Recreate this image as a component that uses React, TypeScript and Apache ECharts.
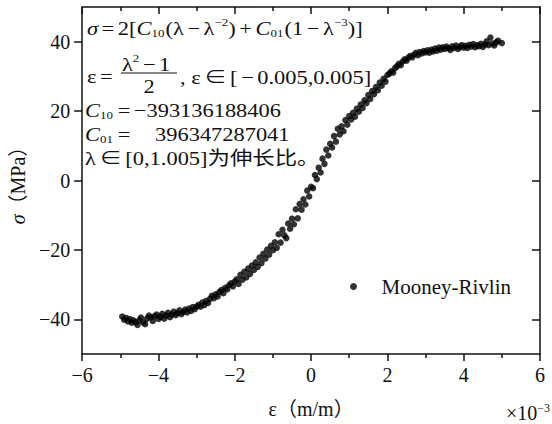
import React, { useEffect, useRef } from "react";
import * as echarts from "echarts";

// strain in units of 10^-3 (m/m), stress in MPa
const strain = [
  -4.95, -4.9, -4.85, -4.8, -4.75, -4.7, -4.66, -4.6, -4.55, -4.5, -4.46, -4.4, -4.35, -4.3, -4.25, -4.2, -4.15, -4.1, -4.05, -4.0,
  -3.95, -3.9, -3.85, -3.8, -3.75, -3.7, -3.65, -3.6, -3.55, -3.5, -3.45, -3.4, -3.35, -3.3, -3.25, -3.2, -3.15, -3.1, -3.05, -3.0,
  -2.95, -2.9, -2.85, -2.8, -2.75, -2.7, -2.65, -2.6, -2.55, -2.5, -2.45, -2.4, -2.35, -2.3, -2.25, -2.2, -2.15, -2.1, -2.05, -2.0,
  -1.95, -1.9, -1.85, -1.8, -1.75, -1.7, -1.65, -1.6, -1.55, -1.5, -1.45, -1.4, -1.35, -1.3, -1.25, -1.2, -1.15, -1.1, -1.05, -1.0,
  -0.95, -0.9, -0.85, -0.8, -0.75, -0.7, -0.65, -0.6, -0.55, -0.5, -0.45, -0.4, -0.35, -0.3, -0.25, -0.2, -0.15, -0.1, -0.05, 0.0,
  0.05, 0.1, 0.15, 0.2, 0.25, 0.3, 0.35, 0.4, 0.45, 0.5, 0.55, 0.6, 0.65, 0.7, 0.75, 0.8, 0.85, 0.9, 0.95, 1.0,
  1.05, 1.1, 1.15, 1.2, 1.25, 1.3, 1.35, 1.4, 1.45, 1.5, 1.55, 1.6, 1.65, 1.7, 1.75, 1.8, 1.85, 1.9, 1.95, 2.0,
  2.05, 2.1, 2.15, 2.2, 2.25, 2.3, 2.35, 2.4, 2.45, 2.5, 2.55, 2.6, 2.65, 2.7, 2.75, 2.8, 2.85, 2.9, 2.95, 3.0,
  3.05, 3.1, 3.15, 3.2, 3.25, 3.3, 3.35, 3.4, 3.45, 3.5, 3.55, 3.6, 3.65, 3.7, 3.75, 3.8, 3.85, 3.9, 3.95, 4.0,
  4.05, 4.1, 4.15, 4.2, 4.25, 4.3, 4.35, 4.4, 4.45, 4.5, 4.55, 4.6, 4.65, 4.7, 4.75, 4.8, 4.85, 4.9, 5.0,
];
const stress = [
  -39.2, -40.1, -39.6, -40.6, -39.9, -41.0, -40.3, -40.8, -41.6, -40.2, -39.5, -40.9, -41.4, -39.8, -38.9, -39.4, -40.5, -39.1, -38.6, -39.9,
  -39.3, -38.4, -39.8, -38.9, -38.1, -39.4, -38.6, -37.8, -38.8, -38.2, -37.4, -38.5, -37.9, -37.2, -38.0, -36.9, -37.6, -36.5, -37.1, -36.3,
  -35.8, -36.4, -35.2, -35.9, -34.7, -35.3, -34.1, -33.2, -33.9, -32.8, -33.4, -32.1, -31.6, -32.5, -30.9, -31.4, -30.2, -29.6, -30.5, -29.1,
  -28.5, -29.8, -27.2, -28.6, -26.3, -27.9, -25.4, -26.9, -24.5, -25.8, -23.6, -24.9, -22.2, -23.8, -21.1, -22.5, -19.9, -21.4, -18.8, -20.1,
  -17.8, -19.4, -15.5, -17.9, -14.2, -15.8, -16.6, -12.4, -13.9, -11.0, -12.6, -8.3, -10.9, -6.8, -8.4, -5.4, -6.9, -2.9, -4.6, -1.8,
  -2.2, 1.6, 0.4, 3.7, 2.3, 6.3, 4.8, 8.9, 7.2, 10.6, 9.5, 12.8, 11.2, 14.9, 13.3, 15.6, 14.2, 17.4, 16.1, 18.6,
  17.6, 19.5, 18.4, 20.7, 19.8, 21.9, 20.9, 23.1, 22.3, 24.6, 23.5, 25.8, 24.9, 26.9, 26.0, 28.2, 27.3, 29.3, 28.5, 30.4,
  30.8, 31.5, 31.1, 32.4, 32.9, 33.6, 33.2, 34.3, 34.9, 34.5, 35.4, 35.9, 35.5, 36.3, 36.8, 36.1, 37.0, 36.6, 37.3, 36.9,
  37.5, 36.8, 37.7, 37.2, 38.0, 37.4, 38.3, 37.7, 38.4, 37.9, 38.6, 38.1, 37.6, 38.7, 38.2, 38.9, 37.9, 38.5, 39.0, 38.3,
  38.8, 38.2, 39.1, 38.6, 39.3, 38.4, 39.0, 38.7, 39.4, 38.5, 39.2, 40.1, 39.0, 41.2, 39.5, 38.9, 39.8, 40.3, 39.6,
];
const yTicks = [-40, -20, 0, 20, 40];
const seriesName = "Mooney-Rivlin";
const c10Text = "−393136188406";
const c01Text = "396347287041";

const serif = "'Liberation Serif', 'Times New Roman', 'Noto Sans CJK SC', serif";
const ink = "#111";
const fmtMinus = (v: number) => String(v).replace("-", "\u2212");

export default function App() {
  const ref = useRef<HTMLDivElement>(null);
  useEffect(() => {
    document.body.style.margin = "0";
    if (!ref.current) return;
    const chart = echarts.init(ref.current, undefined, { renderer: "svg" });
    const fs = 19;
    const rich: any = {
      i: { fontStyle: "italic", fontSize: fs, fontFamily: serif, fill: ink, color: ink, lineHeight: 22 },
      sub: { fontSize: 11, fontFamily: serif, verticalAlign: "bottom", fill: ink, color: ink, lineHeight: 22, padding: [0, 1, 0, 0] },
      sup: { fontSize: 11, fontFamily: serif, verticalAlign: "top", fill: ink, color: ink, lineHeight: 22 },
      op: { fontSize: fs, fontFamily: serif, padding: [0, 3, 0, 3], fill: ink, color: ink, lineHeight: 22 },
      pad: { fontSize: fs, fontFamily: serif, width: 18, lineHeight: 22 },
    };
    const sx = 1.18;
    const txt = (text: string, x: number, y: number, extra: any = {}) => ({
      type: "text",
      x,
      y,
      scaleX: sx,
      style: {
        text,
        fontSize: fs,
        fontFamily: serif,
        fill: ink,
        verticalAlign: "middle",
        lineHeight: 22,
        rich,
        ...extra,
      },
    });
    const points = strain.map((s, k) => [s, stress[k]]);
    const axisLine = { show: true, onZero: false, lineStyle: { color: ink, width: 1.5 } };
    const tickLine = { color: ink, width: 1.5 };
    chart.setOption({
      animation: false,
      grid: { left: 81, right: 12, top: 7, bottom: 63 },
      legend: {
        data: [{ name: seriesName, icon: "circle" }],
        left: 350,
        top: 276,
        padding: 0,
        itemWidth: 46,
        itemHeight: 7,
        textStyle: { fontSize: 21, fontFamily: serif, color: ink },
      },
      xAxis: [
        {
          type: "value",
          min: -6,
          max: 6,
          interval: 2,
          position: "bottom",
          axisLine,
          axisTick: { show: true, inside: false, length: 7, lineStyle: tickLine },
          minorTick: { show: true, splitNumber: 2, length: 4, lineStyle: tickLine },
          splitLine: { show: false },
          axisLabel: { margin: 11, fontSize: 20, fontFamily: serif, color: ink, formatter: fmtMinus },
          name: "ε（m/m）",
          nameLocation: "middle",
          nameGap: 45,
          nameTextStyle: { fontSize: 20, fontFamily: serif, color: ink },
        },
        {
          type: "value",
          min: -6,
          max: 6,
          interval: 2,
          position: "top",
          axisLine,
          axisTick: { show: true, inside: true, length: 7, lineStyle: tickLine },
          minorTick: { show: true, splitNumber: 2, length: 4, lineStyle: tickLine },
          splitLine: { show: false },
          axisLabel: { show: false },
        },
      ],
      yAxis: [
        {
          type: "value",
          min: -50,
          max: 50,
          interval: 10,
          position: "left",
          axisLine,
          axisTick: { show: true, inside: false, length: 8, lineStyle: tickLine, customValues: yTicks },
          splitLine: { show: false },
          axisLabel: {
            margin: 12,
            fontSize: 20,
            fontFamily: serif,
            color: ink,
            customValues: yTicks,
            formatter: fmtMinus,
          },
          name: "{i|σ}（MPa）",
          nameLocation: "middle",
          nameGap: 50,
          nameTextStyle: {
            fontSize: 20,
            fontFamily: serif,
            color: ink,
            rich: { i: { fontStyle: "italic", fontSize: 20, fontFamily: serif, color: ink } },
          },
        },
        {
          type: "value",
          min: -50,
          max: 50,
          interval: 10,
          position: "right",
          axisLine,
          axisTick: { show: true, inside: true, length: 8, lineStyle: tickLine, customValues: yTicks },
          splitLine: { show: false },
          axisLabel: { show: false },
        },
      ],
      series: [
        {
          name: seriesName,
          type: "scatter",
          xAxisIndex: 0,
          yAxisIndex: 0,
          data: points,
          symbol: "circle",
          symbolSize: 6.5,
          itemStyle: { color: "#000" },
        },
      ],
      graphic: [
        txt("{i|σ}{op|=}2[{i|C}{sub|10}(λ{op|−}λ{sup|−2}){op|+}{i|C}{sub|01}(1{op|−}λ{sup|−3})]", 87, 28),
        txt("ε{op|=}", 87, 76),
        txt("λ{sup|2}{op|−}1", 122, 64),
        { type: "line", shape: { x1: 121, y1: 73, x2: 177, y2: 73 }, style: { stroke: ink, lineWidth: 1.2 } },
        txt("2", 149, 86, { align: "center" }),
        txt(", ε{op|∈}[{op|−}0.005,0.005]", 180, 77),
        txt("{i|C}{sub|10}{op|=}" + c10Text, 85, 110),
        txt("{i|C}{sub|01}{op|=}{pad| }" + c01Text, 85, 134),
        txt("λ{op|∈}[0,1.005]为伸长比。", 85, 158),
        {
          type: "text",
          x: 506,
          y: 413,
          style: {
            text: "×10{sup|−3}",
            fontSize: 20,
            fontFamily: serif,
            fill: ink,
            verticalAlign: "middle",
            lineHeight: 22,
            rich: {
              sup: { fontSize: 12, fontFamily: serif, verticalAlign: "top", fill: ink, lineHeight: 22 },
            },
          },
        },
      ],
    });
    return () => chart.dispose();
  }, []);
  return <div ref={ref} style={{ width: 552, height: 424 }} />;
}
